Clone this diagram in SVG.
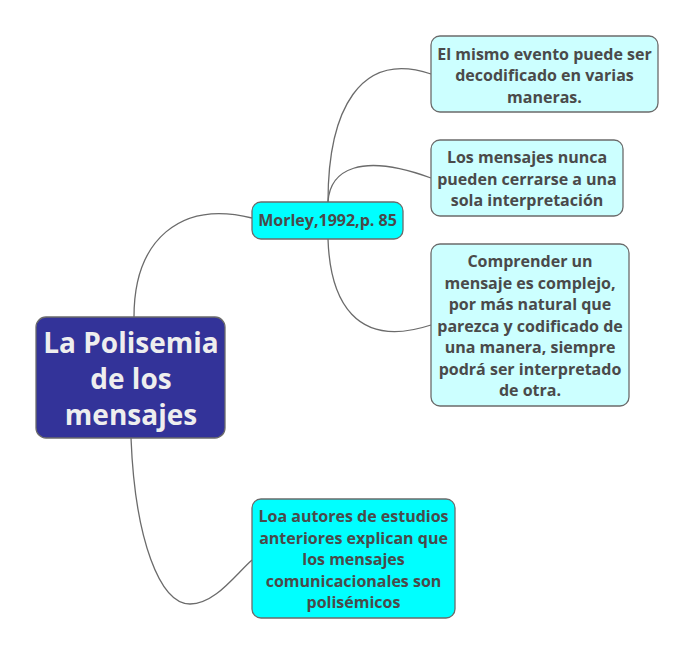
<svg xmlns="http://www.w3.org/2000/svg" width="696" height="656" viewBox="0 0 696 656">
<style>
.c{fill:none;stroke:#6b6b6b;stroke-width:1.3}
.n{stroke:#6b6b6b;stroke-width:1.3}
.t{font-family:"Open Sans","Noto Sans",sans-serif;font-weight:bold;font-size:16px;fill:#4a4a4a;text-anchor:middle}
.ct{font-family:"Open Sans","Noto Sans",sans-serif;font-weight:bold;font-size:28px;fill:#eeeeee;text-anchor:middle}
</style>
<rect width="696" height="656" fill="#ffffff"/>
<g id="connectors">
<path class="c" d="M134 317 C134 240 180 200 252 218"/>
<path class="c" d="M328 202 C328 110 360 50 431 74"/>
<path class="c" d="M328 202 C330 170 360 152 431 178"/>
<path class="c" d="M328 239 C330 300 355 350 431 325"/>
<path class="c" d="M131 438 C135 540 160 604 190 604 C215 604 235 575 252 560"/>
</g>
<g id="central">
<rect class="n" x="36" y="317" width="189" height="121" rx="10" fill="#333399"/>
<text class="ct" x="131" y="352.5">La Polisemia</text>
<text class="ct" x="131" y="388.5">de los</text>
<text class="ct" x="131" y="424.5">mensajes</text>
</g>
<g id="morley">
<rect class="n" x="252" y="202" width="151" height="37" rx="9" fill="#00ffff"/>
<text class="t" x="327.5" y="226">Morley,1992,p. 85</text>
</g>
<g id="box1">
<rect class="n" x="431" y="36" width="227" height="76" rx="9" fill="#ccffff"/>
<text class="t" x="544.5" y="59.5">El mismo evento puede ser</text>
<text class="t" x="544.5" y="81">decodificado en varias</text>
<text class="t" x="544.5" y="102.5">maneras.</text>
</g>
<g id="box2">
<rect class="n" x="431" y="140" width="192" height="76" rx="9" fill="#ccffff"/>
<text class="t" x="527" y="163">Los mensajes nunca</text>
<text class="t" x="527" y="184.5">pueden cerrarse a una</text>
<text class="t" x="527" y="206">sola interpretación</text>
</g>
<g id="box3">
<rect class="n" x="431" y="244" width="198" height="162" rx="9" fill="#ccffff"/>
<text class="t" x="530" y="267">Comprender un</text>
<text class="t" x="530" y="288.5">mensaje es complejo,</text>
<text class="t" x="530" y="310">por más natural que</text>
<text class="t" x="530" y="331.5">parezca y codificado de</text>
<text class="t" x="530" y="353">una manera, siempre</text>
<text class="t" x="530" y="374.5">podrá ser interpretado</text>
<text class="t" x="530" y="396">de otra.</text>
</g>
<g id="box4">
<rect class="n" x="252" y="499" width="203" height="119" rx="9" fill="#00ffff"/>
<text class="t" x="353.5" y="522">Loa autores de estudios</text>
<text class="t" x="353.5" y="543.5">anteriores explican que</text>
<text class="t" x="353.5" y="565">los mensajes</text>
<text class="t" x="353.5" y="586.5">comunicacionales son</text>
<text class="t" x="353.5" y="608">polisémicos</text>
</g>
</svg>
